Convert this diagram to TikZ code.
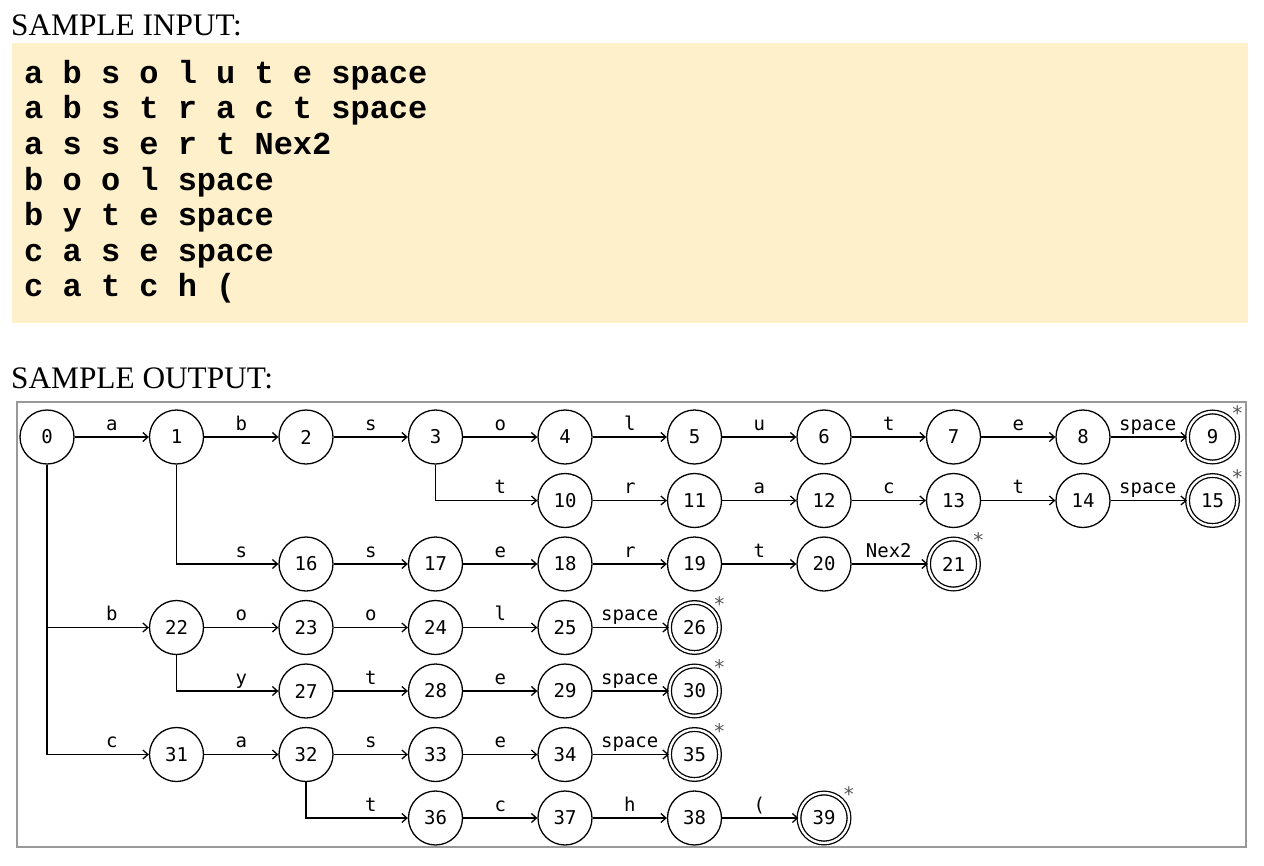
\documentclass[tikz,border=0pt]{standalone}
\usepackage{fontspec}
\setmainfont{Liberation Serif}
\newfontfamily\codefont{Liberation Mono}
\newfontfamily\statefont{DejaVu Sans Mono}
\usetikzlibrary{arrows.meta,calc}
\definecolor{inputbg}{HTML}{FFF0CC}
\definecolor{framegray}{HTML}{999999}
\definecolor{stargray}{HTML}{555555}
\begin{document}
\begin{tikzpicture}[x=1pt,y=-1pt,>={Straight Barb[length=5pt,width=9pt]},
  head/.style = {anchor=base west, inner sep=0pt, font=\fontsize{31.3}{31.3}\selectfont},
  code/.style = {anchor=base west, inner sep=0pt, font=\codefont\bfseries\fontsize{32}{32}\selectfont},
  state/.style = {draw, circle, line width=1.3pt, minimum size=54pt, inner sep=0pt, font=\statefont\fontsize{19}{19}\selectfont},
  final/.style = {state, double, double distance=2.4pt, minimum size=50pt},
  trans/.style = {->, line width=1.3pt},
  lbl/.style = {anchor=base, inner sep=0pt, font=\statefont\fontsize{19}{19}\selectfont},
  acc/.style = {inner sep=0pt, text=stargray, font=\statefont\fontsize{20}{20}\selectfont},]
\useasboundingbox (0,0) rectangle (1264,865);
% input
\node (hin) at (11,35)[head] {SAMPLE INPUT:};
\fill[inputbg] (12,42.5) rectangle (1248,323);
\node (in1) at (24,83.3)[code] {a b s o l u t e space};
\node (in2) at (24,118.9)[code] {a b s t r a c t space};
\node (in3) at (24,154.5)[code] {a s s e r t Nex2};
\node (in4) at (24,190.1)[code] {b o o l space};
\node (in5) at (24,225.7)[code] {b y t e space};
\node (in6) at (24,261.3)[code] {c a s e space};
\node (in7) at (24,296.9)[code] {c a t c h (};
% output
\node (hout) at (11,388)[head] {SAMPLE OUTPUT:};
\draw[framegray, line width=2pt] (17,401.5) rectangle (1246,847);
\node (q0) at (47,437)[state] {0};
\node (q1) at (176.5,437)[state] {1};
\node (q2) at (306,437)[state] {2};
\node (q3) at (435.5,437)[state] {3};
\node (q4) at (565,437)[state] {4};
\node (q5) at (694.5,437)[state] {5};
\node (q6) at (824,437)[state] {6};
\node (q7) at (953.5,437)[state] {7};
\node (q8) at (1083,437)[state] {8};
\node (q9) at (1212.5,437)[final] {9};
\node (q10) at (565,500.5)[state] {10};
\node (q11) at (694.5,500.5)[state] {11};
\node (q12) at (824,500.5)[state] {12};
\node (q13) at (953.5,500.5)[state] {13};
\node (q14) at (1083,500.5)[state] {14};
\node (q15) at (1212.5,500.5)[final] {15};
\node (q16) at (306,564)[state] {16};
\node (q17) at (435.5,564)[state] {17};
\node (q18) at (565,564)[state] {18};
\node (q19) at (694.5,564)[state] {19};
\node (q20) at (824,564)[state] {20};
\node (q21) at (953.5,564)[final] {21};
\node (q22) at (176.5,627.5)[state] {22};
\node (q23) at (306,627.5)[state] {23};
\node (q24) at (435.5,627.5)[state] {24};
\node (q25) at (565,627.5)[state] {25};
\node (q26) at (694.5,627.5)[final] {26};
\node (q27) at (306,691)[state] {27};
\node (q28) at (435.5,691)[state] {28};
\node (q29) at (565,691)[state] {29};
\node (q30) at (694.5,691)[final] {30};
\node (q31) at (176.5,754.5)[state] {31};
\node (q32) at (306,754.5)[state] {32};
\node (q33) at (435.5,754.5)[state] {33};
\node (q34) at (565,754.5)[state] {34};
\node (q35) at (694.5,754.5)[final] {35};
\node (q36) at (435.5,818)[state] {36};
\node (q37) at (565,818)[state] {37};
\node (q38) at (694.5,818)[state] {38};
\node (q39) at (824,818)[final] {39};
\foreach \f in {9,15,21,26,30,35,39}
  \node (st\f) at ($(q\f.center)+(25,-23.5)$)[acc] {*};
% straight transitions
\foreach \a/\b/\t in {0/1/a,1/2/b,2/3/s,3/4/o,4/5/l,5/6/u,6/7/t,7/8/e,8/9/space,
  10/11/r,11/12/a,12/13/c,13/14/t,14/15/space,
  16/17/s,17/18/e,18/19/r,19/20/t,20/21/Nex2,
  22/23/o,23/24/o,24/25/l,25/26/space,
  27/28/t,28/29/e,29/30/space,
  31/32/a,32/33/s,33/34/e,34/35/space,
  36/37/c,37/38/h,38/39/(}{
  \draw[trans] (q\a)--(q\b);
  \node (l\b) at ($(q\a.center)!.5!(q\b.center)+(0,-7)$)[lbl] {\t};
}
% branching transitions
\foreach \a/\b/\t in {3/10/t,1/16/s,0/22/b,22/27/y,0/31/c,32/36/t}{
  \draw[trans] (q\a) |- (q\b);
  \node (l\b) at ($(q\a.center |- q\b.center)!.5!(q\b.center)+(0,-7)$)[lbl] {\t};
}
\end{tikzpicture}
\end{document}
